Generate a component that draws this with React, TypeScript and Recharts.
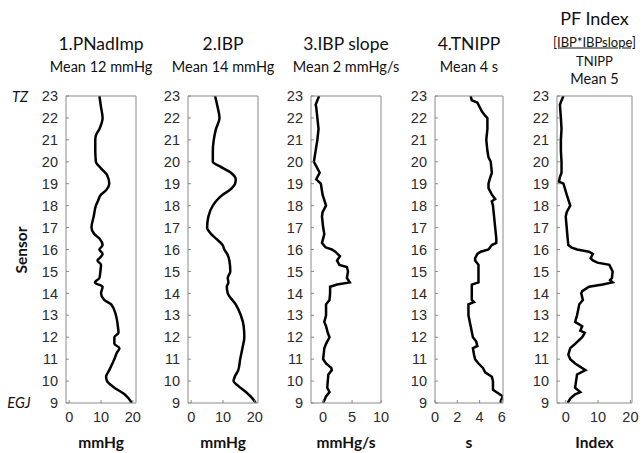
import React from "react"
import { LineChart, Line, XAxis, YAxis } from "recharts"

// sensor positions (read top to bottom) and values for each profile
const pnadSensors = [23, 22.5, 22, 21.5, 21.2, 21, 20.5, 20, 19.7, 19.4, 19, 18.7, 18.5, 18.2, 18, 17.5, 17, 16.7, 16.5, 16.2, 16, 15.8, 15.6, 15.5, 15.3, 15, 14.7, 14.5, 14.3, 14, 13.7, 13.5, 13, 12.5, 12.2, 12, 11.7, 11.5, 11.3, 11, 10.5, 10.2, 10, 9.7, 9.4, 9]
const pnadValues = [9.5, 10, 10.5, 9.5, 8.4, 8.2, 8.2, 8.4, 10, 11.9, 12.6, 11.6, 10, 9, 8.4, 7.7, 7, 7.9, 9.5, 10.5, 9.5, 10.5, 9.5, 8.9, 10, 9.8, 9.5, 8.1, 10.5, 10, 11, 13.2, 14.7, 15.3, 15.5, 14.2, 14.2, 15.8, 15, 14.2, 12.6, 11.6, 11.9, 14.2, 17.4, 19.7]

const ibpSensors = [23, 22.5, 22, 21.5, 21, 20.5, 20, 19.8, 19.5, 19.2, 19, 18.7, 18.5, 18.2, 18, 17.5, 17, 16.7, 16.5, 16.2, 16, 15.8, 15.5, 15, 14.7, 14.5, 14.3, 14, 13.5, 13, 12.5, 12, 11.5, 11, 10.5, 10.2, 10, 9.8, 9.5, 9.2, 9]
const ibpValues = [7.5, 8.3, 8.9, 7.8, 7.1, 6.8, 6.8, 8.9, 12.5, 14, 13.8, 12, 9.9, 7.8, 6.8, 5.4, 5, 6.3, 7.8, 9.9, 10.4, 11.3, 12, 12.3, 11.5, 11.7, 11.2, 11.5, 14, 15.6, 16.5, 16.7, 16.1, 15.4, 14.8, 13.7, 13.3, 14.6, 17.2, 19.3, 20.3]

const slopeSensors = [23, 22.8, 22.6, 22.5, 22, 21.5, 21, 20.5, 20, 19.8, 19.5, 19.3, 19.2, 19, 18.5, 18, 17.7, 17.5, 17, 16.7, 16.3, 16.1, 16, 15.9, 15.7, 15.5, 15.3, 15.2, 15, 14.7, 14.5, 14.4, 14.3, 14, 13.7, 13.5, 13, 12.7, 12.5, 12.2, 12, 11.7, 11.5, 11, 10.8, 10.6, 10.5, 10.3, 10, 9.7, 9.5, 9.3, 9]
const slopeValues = [-0.7, -1, -1.3, -1.2, -1, -0.8, -1, -1.3, -1.6, -1.2, -0.6, -1, -1.2, -0.4, -0.1, 0.5, -0.1, -0.2, 0, 0.2, -0.2, 0.4, 1.5, 2.1, 2.9, 2.4, 2.8, 4.1, 4.3, 4.1, 4.6, 2.4, 1.2, 1.2, 1.1, 0.5, 0.5, 0.2, 0.5, 0.8, 1.1, 0.5, 0.2, 0, 0.5, 1.4, 1.5, 0.9, 0.8, 0.7, 1.1, 0.5, 0]

const tnippSensors = [23, 22.8, 22.7, 22.5, 22.3, 22.1, 22, 21.5, 21, 20.5, 20.2, 20, 19.5, 19.2, 19, 18.8, 18.5, 18.3, 18.2, 18, 17.5, 17, 16.5, 16.3, 16.2, 16, 15.9, 15.8, 15.6, 15.5, 15.3, 15, 14.5, 14.4, 14, 13.7, 13.6, 13.5, 13, 12.5, 12, 11.8, 11.6, 11.5, 11.2, 11, 10.8, 10.6, 10.4, 10.2, 10, 9.8, 9.6, 9.5, 9.3, 9.1, 9]
const tnippValues = [3.2, 3.3, 3.8, 4, 4.2, 4.5, 4.7, 4.7, 4.6, 4.7, 4.8, 5, 5.1, 4.9, 4.8, 4.8, 5.1, 5.4, 5.1, 5.2, 5.3, 5.4, 5.5, 5.5, 5.1, 4.8, 4.1, 3.8, 3.6, 3.6, 3.9, 3.9, 3.9, 3.3, 3.3, 3.3, 3.5, 3, 3, 3.2, 3.4, 3.7, 3.8, 3.4, 3.5, 3.6, 3.9, 4.3, 4.5, 5.1, 5.2, 5.2, 5.2, 5.5, 6.1, 5.9, 5.9]

const pfSensors = [23, 22.8, 22.6, 22, 21.5, 21, 20.5, 20, 19.5, 19.3, 19.1, 19, 18.5, 18, 17.7, 17.5, 17, 16.5, 16.2, 16.1, 16, 15.9, 15.8, 15.6, 15.5, 15.4, 15.3, 15, 14.7, 14.6, 14.5, 14.4, 14.3, 14.1, 14, 13.7, 13.5, 13, 12.7, 12.5, 12.3, 12.2, 12, 11.7, 11.5, 11.2, 11, 10.8, 10.5, 10.3, 10, 9.7, 9.5, 9.4, 9.2, 9]
const pfValues = [-0.7, -1.3, -1.8, -1.5, -1.3, -1.5, -1.5, -1.3, -1.3, -1.8, -2.1, -0.7, 0.3, 1.4, 0.3, 0, 0.3, 0.6, 0.8, 1.7, 3.5, 7.2, 8.4, 7.7, 8.4, 9.8, 13.5, 14.5, 14.3, 13.7, 14.5, 11.4, 7.2, 5.1, 4.8, 5.3, 4.2, 3.5, 2.9, 5.1, 4.5, 5.9, 5.1, 2.9, 1.4, 0.8, 1.4, 2.9, 6.1, 3.5, 3.2, 2.9, 4.5, 2.9, 1.4, 0.6]

const sensorTicks = [9, 10, 11, 12, 13, 14, 15, 16, 17, 18, 19, 20, 21, 22, 23]

const BOX_TOP = 96
const BOX_BOTTOM = 403
const H = 453
const AXIS_W = 40
const RIGHT_PAD = 14
const BOX = "#8a8a8a"
const TICK = "#2b2b2b"
const TITLE_FONT = "Lato, 'Open Sans', sans-serif"
const TICK_FONT = "'Liberation Sans', Arial, sans-serif"

const panels = [
  { left: 66, right: 136, domain: [-1, 21], ticks: [0, 10, 20], sensors: pnadSensors, values: pnadValues, curve: "monotone", unit: "mmHg", titles: [{ t: "1.PNadImp", y: 44, size: 17.5 }, { t: "Mean 12 mmHg", y: 67, size: 14.5 }] },
  { left: 188, right: 258, domain: [-1, 21], ticks: [0, 10, 20], sensors: ibpSensors, values: ibpValues, curve: "monotone", unit: "mmHg", titles: [{ t: "2.IBP", y: 44, size: 17.5 }, { t: "Mean 14 mmHg", y: 67, size: 14.5 }] },
  { left: 311, right: 381, domain: [-2.1, 10], ticks: [0, 5, 10], sensors: slopeSensors, values: slopeValues, curve: "linear", unit: "mmHg/s", titles: [{ t: "3.IBP slope", y: 44, size: 17.5 }, { t: "Mean 2 mmHg/s", y: 67, size: 14.5 }] },
  { left: 435, right: 503, domain: [0, 6.1], ticks: [0, 2, 4, 6], sensors: tnippSensors, values: tnippValues, curve: "linear", unit: "s", titles: [{ t: "4.TNIPP", y: 44, size: 17.5 }, { t: "Mean 4 s", y: 67, size: 14.5 }] },
  { left: 557, right: 632, domain: [-2.7, 20.5], ticks: [0, 10, 20], sensors: pfSensors, values: pfValues, curve: "linear", unit: "Index", titles: [{ t: "PF Index", y: 18, size: 18 }, { t: "[IBP*IBPslope]", y: 42, size: 13, u: true }, { t: "TNIPP", y: 61, size: 13 }, { t: "Mean 5", y: 79, size: 14.5 }] },
]

function Text({ x, y, size, children, bold, italic, underline, rotate }: any) {
  return (
    <div
      style={{
        position: "absolute",
        left: x,
        top: y,
        transform: `translate(-50%, -50%)${rotate ? " rotate(-90deg)" : ""}`,
        fontFamily: TITLE_FONT,
        fontSize: size,
        fontWeight: bold ? 700 : 400,
        fontStyle: italic ? "italic" : "normal",
        textDecoration: underline ? "underline" : "none",
        lineHeight: 1,
        whiteSpace: "nowrap",
        color: "#111",
      }}
    >
      {children}
    </div>
  )
}

function Panel({ p }: any) {
  const w = p.right - p.left
  const data = p.sensors.map((s: number, i: number) => ({ s, v: p.values[i] }))
  const cx = (p.left + p.right) / 2
  return (
    <>
      <div style={{ position: "absolute", left: p.left - AXIS_W, top: 0 }}>
        <LineChart
          layout="vertical"
          width={AXIS_W + w + 1 + RIGHT_PAD}
          height={H}
          data={data}
          margin={{ top: BOX_TOP - 1, right: RIGHT_PAD, bottom: 0, left: 0 }}
        >
          <XAxis
            xAxisId="b"
            type="number"
            orientation="bottom"
            domain={p.domain}
            ticks={p.ticks}
            allowDataOverflow
            interval={0}
            height={H - BOX_BOTTOM}
            tickSize={-3}
            tickMargin={12}
            stroke={BOX}
            tick={{ fill: TICK, fontSize: 14.5, fontFamily: TICK_FONT }}
          />
          <XAxis
            xAxisId="t"
            type="number"
            orientation="top"
            domain={p.domain}
            ticks={p.ticks}
            allowDataOverflow
            interval={0}
            height={1}
            tickSize={-3}
            stroke={BOX}
            tick={false}
          />
          <YAxis
            yAxisId="l"
            type="number"
            dataKey="s"
            domain={[9, 23]}
            ticks={sensorTicks}
            reversed
            allowDataOverflow
            interval={0}
            width={AXIS_W}
            tickSize={-3}
            tickMargin={11}
            stroke={BOX}
            tick={{ fill: TICK, fontSize: 14.5, fontFamily: TICK_FONT }}
          />
          <YAxis
            yAxisId="r"
            type="number"
            orientation="right"
            dataKey="s"
            domain={[9, 23]}
            ticks={sensorTicks}
            reversed
            allowDataOverflow
            interval={0}
            width={1}
            tickSize={-3}
            stroke={BOX}
            tick={false}
          />
          <Line
            xAxisId="b"
            yAxisId="l"
            dataKey="v"
            type={p.curve}
            stroke="#000"
            strokeWidth={2.5}
            dot={false}
            isAnimationActive={false}
          />
        </LineChart>
      </div>
      {p.titles.map((t: any) => (
        <Text key={t.t} x={cx} y={t.y} size={t.size} underline={t.u}>
          {t.t}
        </Text>
      ))}
      <Text x={cx} y={443} size={15.5} bold>
        {p.unit}
      </Text>
    </>
  )
}

export default function App() {
  return (
    <div style={{ position: "absolute", left: 0, top: 0, width: 644, height: H, background: "#fff" }}>
      {panels.map((p, i) => (
        <Panel key={i} p={p} />
      ))}
      <Text x={22} y={250} size={15.5} bold rotate>
        Sensor
      </Text>
      <Text x={20} y={97} size={14.5} italic>
        TZ
      </Text>
      <Text x={19} y={403} size={14.5} italic>
        EGJ
      </Text>
    </div>
  )
}
